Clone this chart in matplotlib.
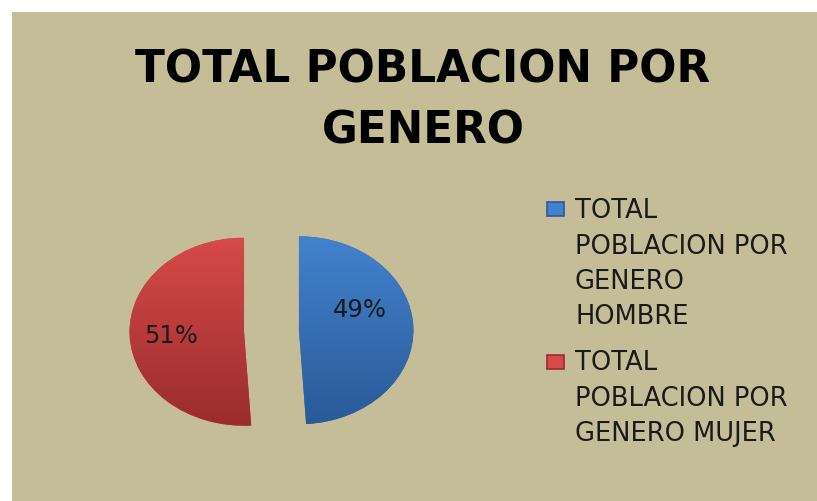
import numpy as np
import matplotlib
matplotlib.use("Agg")
import matplotlib.pyplot as plt
from matplotlib.patches import Rectangle
from matplotlib.colors import LinearSegmentedColormap

# ---- data ----
title = "TOTAL POBLACION POR\nGENERO"
categories = ["TOTAL\nPOBLACION POR\nGENERO\nHOMBRE",
              "TOTAL\nPOBLACION POR\nGENERO MUJER"]
values = [49, 51]
colors_top = ["#4282CD", "#D64A4A"]
colors_bottom = ["#2A5A98", "#9A2C2C"]
colors_mid = ["#3A70B5", "#C03D3D"]

W, H = 817, 502
fig = plt.figure(figsize=(W / 100, H / 100), dpi=100, facecolor="white")

bg = "#C5BD98"
fig.add_artist(Rectangle((12 / W, 0), 1 - 12 / W, 1 - 13 / H,
                         transform=fig.transFigure, facecolor=bg,
                         edgecolor="none", zorder=0))

# title
fig.text(423 / W, 1 - 48.5 / H, title, ha="center", va="top",
         fontsize=31.5, fontweight="bold", color="black",
         family="DejaVu Sans", linespacing=1.54, multialignment="center")

# pie axes
ax = fig.add_axes([0.1221, 0.1046, 0.4204, 0.4681])
ax.patch.set_alpha(0)
wedges, texts, autotexts = ax.pie(
    values, colors=colors_mid, startangle=90, counterclock=False,
    explode=[0.24, 0.24], autopct="%1.0f%%", pctdistance=0.6,
    wedgeprops=dict(edgecolor="none", linewidth=0),
    textprops=dict(fontsize=17.5, color="#1a1a1a"))

for w, ct, cb in zip(wedges, colors_top, colors_bottom):
    cmap = LinearSegmentedColormap.from_list("g", [cb, ct])
    grad = np.linspace(0, 1, 256).reshape(-1, 1)
    cx, cy = w.center
    im = ax.imshow(grad, cmap=cmap, origin="lower", aspect="auto",
                   extent=(cx - 1.05, cx + 1.05, cy - 1.0, cy + 1.0),
                   zorder=w.get_zorder() + 0.1, interpolation="bilinear")
    im.set_clip_path(w)

label_pos = [(0.77, 0.23), (-0.88, -0.04)]
for t, p in zip(autotexts, label_pos):
    t.set_position(p)
    t.set_zorder(10)

ax.set_aspect("auto")
ax.set_xlim(-1.5, 1.5)
ax.set_ylim(-1.25, 1.25)
ax.axis("off")

# legend (manual)
leg_tops = [198.5, 350.5]
marker_tops = [203, 356]
for lab, ty, my, ct, cb in zip(categories, leg_tops, marker_tops,
                               colors_top, colors_bottom):
    fig.text(575 / W, 1 - ty / H, lab, ha="left", va="top",
             fontsize=18.5, color="#1a1a1a", linespacing=1.455,
             family="DejaVu Sans")
    fig.add_artist(Rectangle((547 / W, 1 - (my + 14) / H), 17 / W, 14 / H,
                             transform=fig.transFigure, facecolor=ct,
                             edgecolor=cb, linewidth=1.2, zorder=3))

fig.savefig("out.png", dpi=100, facecolor="white")
